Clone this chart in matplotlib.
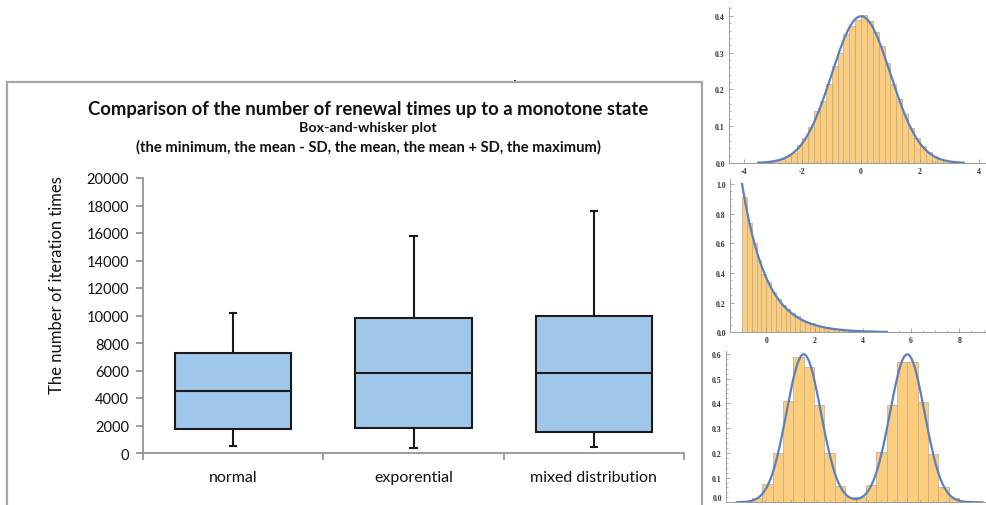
import numpy as np
import matplotlib
matplotlib.use("Agg")
import matplotlib.pyplot as plt
from matplotlib.patches import Rectangle

# ---------------- data ----------------
categories = ["normal", "exporential", "mixed distribution"]
whisker_min = [500, 350, 450]
mean_minus_sd = [1750, 1800, 1500]
mean_vals = [4500, 5800, 5800]
mean_plus_sd = [7300, 9800, 10000]
whisker_max = [10200, 15800, 17600]
y_ticks = [0, 2000, 4000, 6000, 8000, 10000, 12000, 14000, 16000, 18000, 20000]

title_main = "Comparison of the number of renewal times up to a monotone state"
title_sub1 = "Box-and-whisker plot"
title_sub2 = "(the minimum, the mean - SD, the mean, the mean + SD, the maximum)"
y_label = "The number of iteration times"

# histogram panels (bin start, bin width, densities)
norm_bin_start = -3.4
norm_bin_width = 0.2
norm_heights = [0.001, 0.003, 0.006, 0.012, 0.020, 0.027, 0.049, 0.068, 0.097,
                0.140, 0.168, 0.216, 0.265, 0.298, 0.350, 0.372, 0.390,
                0.402, 0.386, 0.356, 0.317, 0.271, 0.216, 0.174, 0.133, 0.094,
                0.068, 0.047, 0.029, 0.018, 0.011, 0.006, 0.003, 0.001]
norm_mu, norm_sigma = 0.0, 1.0

exp_bin_start = -1.0
exp_bin_width = 0.2
exp_heights = [0.910, 0.737, 0.602, 0.490, 0.390, 0.337, 0.270, 0.225, 0.187, 0.157,
               0.130, 0.108, 0.085, 0.072, 0.060, 0.050, 0.040, 0.034, 0.027, 0.022,
               0.018, 0.015, 0.012, 0.010, 0.008, 0.006, 0.005, 0.004, 0.003, 0.002,
               0.002, 0.0015, 0.001, 0.001, 0.001, 0.0008, 0.0008, 0.0006, 0.0006, 0.0005,
               0.0005, 0.0004, 0.0004, 0.0003, 0.0003, 0.0003, 0.0002, 0.0002, 0.0002]
exp_rate, exp_shift = 1.0, -1.0

mix_bin_start = -2.2
mix_bin_width = 0.2
mix_heights = [0.002, 0.016, 0.073, 0.198, 0.408, 0.586, 0.546, 0.392, 0.198, 0.065,
               0.020, 0.020, 0.068, 0.202, 0.392, 0.567, 0.567, 0.404, 0.194, 0.062,
               0.016, 0.002]
mix_means = [-1.0, 1.0]
mix_sd = 1.0 / 3.0
mix_weights = [0.5, 0.5]

# ---------------- figure ----------------
W, H = 986, 506
fig = plt.figure(figsize=(W / 100, H / 100), dpi=100)
fig.patch.set_facecolor("white")

def fx(px):
    return px / W

def fy(py):
    return 1 - py / H

# outer frame of the Excel chart
fig.patches.append(Rectangle((fx(7), fy(560)), fx(702) - fx(7), fy(83) - fy(560),
                             transform=fig.transFigure, fill=False,
                             edgecolor="#a6a6a6", linewidth=1.6, zorder=0))
fig.patches.append(Rectangle((fx(514), fy(82)), 2 / W, 1.5 / H,
                             transform=fig.transFigure, facecolor="#333333",
                             edgecolor="none"))

FONT = "Lato"

ax = fig.add_axes([fx(143), fy(454), fx(684) - fx(143), fy(179) - fy(454)])
stats = []
for i, c in enumerate(categories):
    stats.append(dict(label=c, whislo=whisker_min[i], q1=mean_minus_sd[i],
                      med=mean_vals[i], q3=mean_plus_sd[i], whishi=whisker_max[i],
                      fliers=[]))
pos = [0.5 + i for i in range(len(categories))]
ax.bxp(stats, positions=pos, widths=0.645, patch_artist=True, showfliers=False,
       capwidths=0.035,
       boxprops=dict(facecolor="#9fc7ea", edgecolor="#1a1a1a", linewidth=1.5),
       medianprops=dict(color="#1a1a1a", linewidth=1.5),
       whiskerprops=dict(color="#1a1a1a", linewidth=1.5),
       capprops=dict(color="#1a1a1a", linewidth=1.5))
ax.set_xlim(0, len(categories))
ax.set_ylim(0, 20000)
ax.set_yticks(y_ticks)
ax.set_yticklabels([str(v) for v in y_ticks], fontsize=10.5, family=FONT, color="#111111")
ax.set_xticks([0, 1, 2, 3])
ax.set_xticklabels([])
ax.set_xticks(pos, minor=True)
ax.set_xticklabels(categories, minor=True, fontsize=11.5, family=FONT, color="#111111")
ax.tick_params(axis="x", which="minor", length=0, pad=12)
ax.tick_params(axis="x", which="major", length=5, color="#8c8c8c", width=1.2)
ax.tick_params(axis="y", length=5, color="#8c8c8c", width=1.2, pad=5)
for s in ["top", "right"]:
    ax.spines[s].set_visible(False)
for s in ["left", "bottom"]:
    ax.spines[s].set_color("#8c8c8c")
    ax.spines[s].set_linewidth(1.2)
ax.patch.set_alpha(0)

fig.text(fx(57), fy(285), y_label, rotation=90, ha="center", va="center",
         fontsize=12, family=FONT, color="#111111")
fig.text(fx(368), fy(109), title_main, ha="center", va="center",
         fontsize=13.3, family=FONT, fontweight="bold", color="#111111")
fig.text(fx(368), fy(128), title_sub1, ha="center", va="center",
         fontsize=10.3, family=FONT, fontweight="bold", color="#111111")
fig.text(fx(368), fy(147), title_sub2, ha="center", va="center",
         fontsize=10.6, family=FONT, fontweight="bold", color="#111111")

# ---------------- histogram panels ----------------
BAR = "#fdcd7c"
EDGE = "#b3aa9c"
CURVE = "#5a81bd"
AXC = "#9a9a9a"
TFONT = dict(family="Liberation Serif", fontsize=5.6, fontweight="bold", color="#333333")

def style_hist(a, xlim, ylim, xmaj, xmin_step, ymaj, ymin_step, yfmt, xlabels=True):
    a.set_xlim(*xlim)
    a.set_ylim(*ylim)
    a.set_xticks(xmaj)
    a.set_xticklabels([str(v) for v in xmaj] if xlabels else [], **TFONT)
    a.set_xticks(np.arange(xlim[0] - xlim[0] % xmin_step, xlim[1], xmin_step), minor=True)
    a.set_yticks(ymaj)
    a.set_yticklabels([yfmt.format(v) for v in ymaj], **TFONT)
    a.set_yticks(np.arange(0, ylim[1], ymin_step), minor=True)
    a.tick_params(which="major", direction="in", length=3, width=0.6, color=AXC, pad=3)
    a.tick_params(which="minor", direction="in", length=1.6, width=0.5, color=AXC)
    for s in ["top", "right"]:
        a.spines[s].set_visible(False)
    for s in ["left", "bottom"]:
        a.spines[s].set_color(AXC)
        a.spines[s].set_linewidth(0.7)
    a.patch.set_alpha(0)

def draw_bars(a, start, width, heights):
    lefts = [start + width * i for i in range(len(heights))]
    a.bar(lefts, heights, width=width, align="edge", color=BAR,
          edgecolor=EDGE, linewidth=0.5, zorder=1)

# normal
a1 = fig.add_axes([fx(729), fy(164), fx(985) - fx(729), fy(8) - fy(164)])
draw_bars(a1, norm_bin_start, norm_bin_width, norm_heights)
xs = np.linspace(-3.5, 3.5, 400)
a1.plot(xs, np.exp(-0.5 * ((xs - norm_mu) / norm_sigma) ** 2) / (norm_sigma * np.sqrt(2 * np.pi)),
        color=CURVE, lw=1.6, zorder=3)
style_hist(a1, (-4.29, 4.22), (0, 0.424), [-4, -2, 0, 2, 4], 0.5,
           [0.0, 0.1, 0.2, 0.3, 0.4], 0.02, "{:.1f}")

# exponential
a2 = fig.add_axes([fx(730), fy(333.3), fx(985) - fx(730), fy(180) - fy(333.3)])
draw_bars(a2, exp_bin_start, exp_bin_width, exp_heights)
xs = np.linspace(exp_shift, 5.0, 400)
a2.plot(xs, exp_rate * np.exp(-exp_rate * (xs - exp_shift)), color=CURVE, lw=1.6, zorder=3)
style_hist(a2, (-1.02, 9.06), (0, 1.034), [0, 2, 4, 6, 8], 0.5,
           [0.0, 0.2, 0.4, 0.6, 0.8, 1.0], 0.05, "{:.1f}")

# mixed
a3 = fig.add_axes([fx(726), fy(503.3), fx(985) - fx(726), fy(351.7) - fy(503.3)])
draw_bars(a3, mix_bin_start, mix_bin_width, mix_heights)
xs = np.linspace(-2.29, 2.45, 400)
ys = sum(w * np.exp(-0.5 * ((xs - m) / mix_sd) ** 2) / (mix_sd * np.sqrt(2 * np.pi))
         for w, m in zip(mix_weights, mix_means))
a3.plot(xs, ys, color=CURVE, lw=1.6, zorder=3)
style_hist(a3, (-2.29, 2.5), (0, 0.613), [-2, -1, 0, 1, 2], 0.25,
           [0.0, 0.1, 0.2, 0.3, 0.4, 0.5, 0.6], 0.02, "{:.1f}", xlabels=False)
a3.get_yticklabels()[0].set_verticalalignment("bottom")

fig.savefig("out.png", dpi=100)
